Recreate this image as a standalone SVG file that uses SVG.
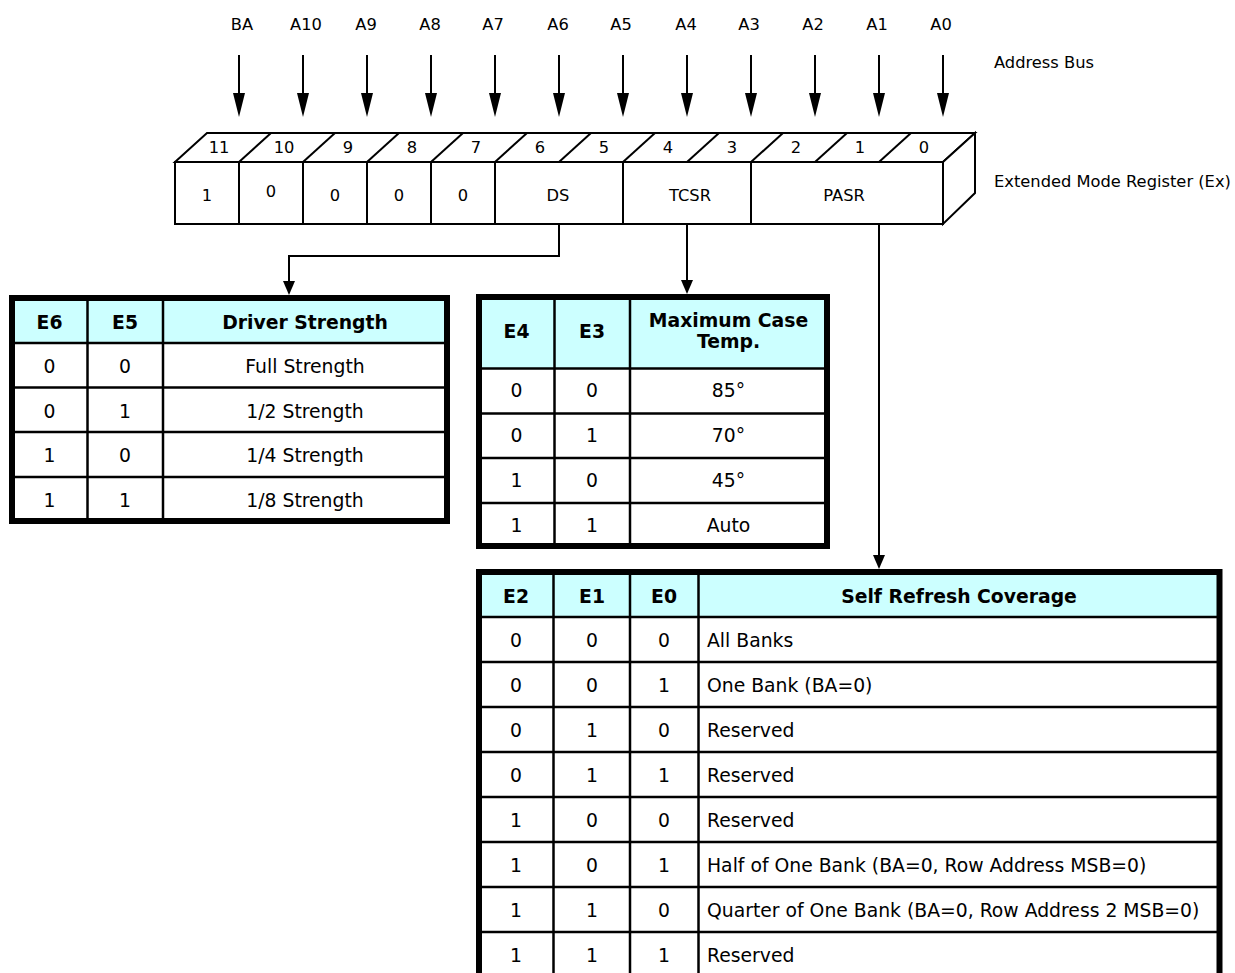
<svg xmlns="http://www.w3.org/2000/svg" width="1235" height="973" viewBox="0 0 1235 973">
<defs>
<style>
.reg{fill:#fff;stroke:#000;stroke-width:2;stroke-linejoin:miter}
.ln{stroke:#000;stroke-width:2;fill:none}
.t16{font-family:"DejaVu Sans",Verdana,sans-serif;font-size:16.3px;fill:#000}
.c{text-anchor:middle}
.tb{font-family:"DejaVu Sans",Verdana,sans-serif;font-size:18.8px;fill:#000}
.b{font-weight:bold}
.outer{fill:none;stroke:#000;stroke-width:6}
.inner{stroke:#000;stroke-width:2.5;fill:none}
.hdr{fill:#CCFFFF}
.body{fill:#fff}
</style>
<marker id="bus" markerUnits="userSpaceOnUse" viewBox="0 0 24 12" refX="14" refY="6" markerWidth="24" markerHeight="12" orient="auto">
<path d="M0,0 L24,6 L0,12 z" fill="#000"/>
</marker>
<marker id="conn" markerUnits="userSpaceOnUse" viewBox="0 0 14 12" refX="7" refY="6" markerWidth="14" markerHeight="12" orient="auto">
<path d="M0,0 L14,6 L0,12 z" fill="#000"/>
</marker>
</defs>
<rect width="1235" height="973" fill="#fff"/>

<g id="address-bus">
<g class="t16 c">
<text x="242" y="30">BA</text>
<text x="306" y="30">A10</text>
<text x="366" y="30">A9</text>
<text x="430" y="30">A8</text>
<text x="493" y="30">A7</text>
<text x="558" y="30">A6</text>
<text x="621" y="30">A5</text>
<text x="686" y="30">A4</text>
<text x="749" y="30">A3</text>
<text x="813" y="30">A2</text>
<text x="877" y="30">A1</text>
<text x="941" y="30">A0</text>
</g>
<text class="t16" x="994" y="68">Address Bus</text>
</g>

<g id="bus-arrows" class="ln">
<line x1="239" y1="55" x2="239" y2="107" marker-end="url(#bus)"/>
<line x1="303" y1="55" x2="303" y2="107" marker-end="url(#bus)"/>
<line x1="367" y1="55" x2="367" y2="107" marker-end="url(#bus)"/>
<line x1="431" y1="55" x2="431" y2="107" marker-end="url(#bus)"/>
<line x1="495" y1="55" x2="495" y2="107" marker-end="url(#bus)"/>
<line x1="559" y1="55" x2="559" y2="107" marker-end="url(#bus)"/>
<line x1="623" y1="55" x2="623" y2="107" marker-end="url(#bus)"/>
<line x1="687" y1="55" x2="687" y2="107" marker-end="url(#bus)"/>
<line x1="751" y1="55" x2="751" y2="107" marker-end="url(#bus)"/>
<line x1="815" y1="55" x2="815" y2="107" marker-end="url(#bus)"/>
<line x1="879" y1="55" x2="879" y2="107" marker-end="url(#bus)"/>
<line x1="943" y1="55" x2="943" y2="107" marker-end="url(#bus)"/>
</g>

<g id="register">
<polygon class="reg" points="175,162 207,133 975,133 943,162"/>
<polygon class="reg" points="943,162 975,133 975,193 943,224"/>
<rect class="reg" x="175" y="162" width="768" height="62"/>
<g class="ln">
<line x1="239" y1="162" x2="271" y2="133"/>
<line x1="303" y1="162" x2="335" y2="133"/>
<line x1="367" y1="162" x2="399" y2="133"/>
<line x1="431" y1="162" x2="463" y2="133"/>
<line x1="495" y1="162" x2="527" y2="133"/>
<line x1="559" y1="162" x2="591" y2="133"/>
<line x1="623" y1="162" x2="655" y2="133"/>
<line x1="687" y1="162" x2="719" y2="133"/>
<line x1="751" y1="162" x2="783" y2="133"/>
<line x1="815" y1="162" x2="847" y2="133"/>
<line x1="879" y1="162" x2="911" y2="133"/>
<line x1="239" y1="162" x2="239" y2="224"/>
<line x1="303" y1="162" x2="303" y2="224"/>
<line x1="367" y1="162" x2="367" y2="224"/>
<line x1="431" y1="162" x2="431" y2="224"/>
<line x1="495" y1="162" x2="495" y2="224"/>
<line x1="623" y1="162" x2="623" y2="224"/>
<line x1="751" y1="162" x2="751" y2="224"/>
</g>
<g class="t16 c">
<text x="219" y="153">11</text>
<text x="284" y="153">10</text>
<text x="348" y="153">9</text>
<text x="412" y="153">8</text>
<text x="476" y="153">7</text>
<text x="540" y="153">6</text>
<text x="604" y="153">5</text>
<text x="668" y="153">4</text>
<text x="732" y="153">3</text>
<text x="796" y="153">2</text>
<text x="860" y="153">1</text>
<text x="924" y="153">0</text>
<text x="207" y="201">1</text>
<text x="271" y="197">0</text>
<text x="335" y="201">0</text>
<text x="399" y="201">0</text>
<text x="463" y="201">0</text>
<text x="558" y="201">DS</text>
<text x="690" y="201">TCSR</text>
<text x="844" y="201">PASR</text>
</g>
<text class="t16" x="994" y="187">Extended Mode Register (Ex)</text>
</g>

<g id="connectors" class="ln">
<path d="M559,224 V256 H289 V288" marker-end="url(#conn)"/>
<path d="M687,224 V287" marker-end="url(#conn)"/>
<path d="M879,224 V562" marker-end="url(#conn)"/>
</g>

<g id="table-driver-strength">
<rect class="body" x="12" y="298" width="435" height="223"/>
<rect class="hdr" x="12" y="298" width="435" height="45"/>
<g class="inner">
<line x1="87.5" y1="298" x2="87.5" y2="521"/>
<line x1="163" y1="298" x2="163" y2="521"/>
<line x1="12" y1="343" x2="447" y2="343"/>
<line x1="12" y1="387.5" x2="447" y2="387.5"/>
<line x1="12" y1="432" x2="447" y2="432"/>
<line x1="12" y1="477" x2="447" y2="477"/>
</g>
<rect class="outer" x="12" y="298" width="435" height="223"/>
<g class="tb b c">
<text x="49.5" y="329">E6</text>
<text x="125" y="329">E5</text>
<text x="305" y="329">Driver Strength</text>
</g>
<g class="tb c">
<text x="49.5" y="373">0</text><text x="125" y="373">0</text><text x="305" y="373">Full Strength</text>
<text x="49.5" y="417.5">0</text><text x="125" y="417.5">1</text><text x="305" y="417.5">1/2 Strength</text>
<text x="49.5" y="462">1</text><text x="125" y="462">0</text><text x="305" y="462">1/4 Strength</text>
<text x="49.5" y="507">1</text><text x="125" y="507">1</text><text x="305" y="507">1/8 Strength</text>
</g>
</g>

<g id="table-max-case-temp">
<rect class="body" x="479" y="297" width="348" height="249"/>
<rect class="hdr" x="479" y="297" width="348" height="71.5"/>
<g class="inner">
<line x1="554.5" y1="297" x2="554.5" y2="546"/>
<line x1="630" y1="297" x2="630" y2="546"/>
<line x1="479" y1="368.5" x2="827" y2="368.5"/>
<line x1="479" y1="413.5" x2="827" y2="413.5"/>
<line x1="479" y1="458" x2="827" y2="458"/>
<line x1="479" y1="503" x2="827" y2="503"/>
</g>
<rect class="outer" x="479" y="297" width="348" height="249"/>
<g class="tb b c">
<text x="516.5" y="338">E4</text>
<text x="592" y="338">E3</text>
<text x="728.5" y="327">Maximum Case</text>
<text x="728.5" y="348">Temp.</text>
</g>
<g class="tb c">
<text x="516.5" y="397">0</text><text x="592" y="397">0</text><text x="728.5" y="397">85°</text>
<text x="516.5" y="442">0</text><text x="592" y="442">1</text><text x="728.5" y="442">70°</text>
<text x="516.5" y="487">1</text><text x="592" y="487">0</text><text x="728.5" y="487">45°</text>
<text x="516.5" y="531.5">1</text><text x="592" y="531.5">1</text><text x="728.5" y="531.5">Auto</text>
</g>
</g>

<g id="table-self-refresh">
<rect class="body" x="479" y="572" width="740.5" height="410"/>
<rect class="hdr" x="479" y="572" width="740.5" height="45"/>
<g class="inner">
<line x1="553.5" y1="572" x2="553.5" y2="982"/>
<line x1="630" y1="572" x2="630" y2="982"/>
<line x1="698.5" y1="572" x2="698.5" y2="982"/>
<line x1="479" y1="617" x2="1219.5" y2="617"/>
<line x1="479" y1="662" x2="1219.5" y2="662"/>
<line x1="479" y1="707" x2="1219.5" y2="707"/>
<line x1="479" y1="752" x2="1219.5" y2="752"/>
<line x1="479" y1="797" x2="1219.5" y2="797"/>
<line x1="479" y1="842" x2="1219.5" y2="842"/>
<line x1="479" y1="887" x2="1219.5" y2="887"/>
<line x1="479" y1="932" x2="1219.5" y2="932"/>
</g>
<rect class="outer" x="479" y="572" width="740.5" height="410"/>
<g class="tb b c">
<text x="516" y="603">E2</text>
<text x="592" y="603">E1</text>
<text x="664" y="603">E0</text>
<text x="959" y="603">Self Refresh Coverage</text>
</g>
<g class="tb c">
<text x="516" y="647">0</text><text x="592" y="647">0</text><text x="664" y="647">0</text>
<text x="516" y="692">0</text><text x="592" y="692">0</text><text x="664" y="692">1</text>
<text x="516" y="737">0</text><text x="592" y="737">1</text><text x="664" y="737">0</text>
<text x="516" y="782">0</text><text x="592" y="782">1</text><text x="664" y="782">1</text>
<text x="516" y="827">1</text><text x="592" y="827">0</text><text x="664" y="827">0</text>
<text x="516" y="872">1</text><text x="592" y="872">0</text><text x="664" y="872">1</text>
<text x="516" y="917">1</text><text x="592" y="917">1</text><text x="664" y="917">0</text>
<text x="516" y="962">1</text><text x="592" y="962">1</text><text x="664" y="962">1</text>
</g>
<g class="tb">
<text x="707" y="647">All Banks</text>
<text x="707" y="692">One Bank (BA=0)</text>
<text x="707" y="737">Reserved</text>
<text x="707" y="782">Reserved</text>
<text x="707" y="827">Reserved</text>
<text x="707" y="872">Half of One Bank (BA=0, Row Address MSB=0)</text>
<text x="707" y="917">Quarter of One Bank (BA=0, Row Address 2 MSB=0)</text>
<text x="707" y="962">Reserved</text>
</g>
</g>
</svg>
